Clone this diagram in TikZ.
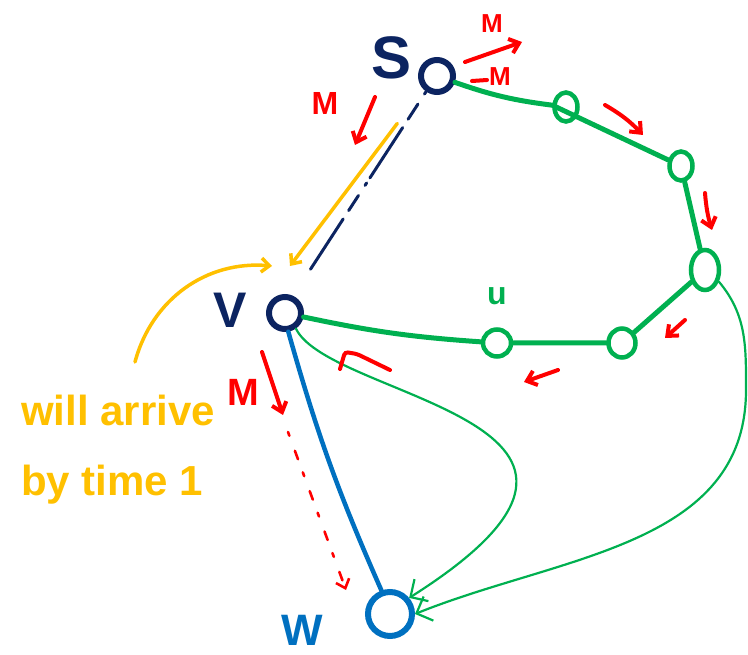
\documentclass[tikz,border=0pt]{standalone}
\usepackage{fontspec}
\setmainfont{Liberation Sans}
\usetikzlibrary{arrows.meta,calc,shapes.geometric}

\definecolor{navy}{RGB}{12,36,97}
\definecolor{pgreen}{RGB}{0,176,80}
\definecolor{pblue}{RGB}{0,112,192}
\definecolor{pred}{RGB}{255,0,0}
\definecolor{pyellow}{RGB}{255,192,0}

\begin{document}
\begin{tikzpicture}[
  x=1pt,y=-1pt,
  line cap=round,
  vtx/.style={circle,draw=navy,line width=6pt,minimum size=32pt,inner sep=0pt},
  gvtx/.style={ellipse,draw=pgreen,line width=4.5pt,minimum width=23pt,minimum height=29pt,inner sep=0pt},
  tag/.style={font=\fontsize{#1}{#1}\selectfont\bfseries,inner sep=0pt},
  gline/.style={pgreen,line width=5pt},
  gthin/.style={pgreen,line width=2.2pt,-{Straight Barb[length=13pt,width=26pt]}},
  redarr/.style={pred,line width=4pt,-{Straight Barb[length=9pt,width=15pt]}},
  yarr/.style={pyellow,line width=3.5pt,-{Straight Barb[length=8pt,width=14pt]}}
]
  \useasboundingbox (0,0) rectangle (748,655);

  % vertices
  \node[vtx] (s) at (437,76) {};
  \node[tag=60,text=navy] (slbl) at (392,58) {S};
  \node[vtx] (v) at (285,313) {};
  \node[tag=50,text=navy] (vlbl) at (230,310) {V};
  \node[circle,draw=pblue,line width=6pt,minimum size=44pt,inner sep=0pt] (w) at (390,614) {};
  \node[tag=44,text=pblue] (wlbl) at (302,630) {W};

  % green cycle
  \node[gvtx] (g1) at (566,107) {};
  \node[gvtx] (g2) at (681,166) {};
  \node[gvtx,minimum width=28pt,minimum height=40pt] (g3) at (705,270) {};
  \node[gvtx,minimum width=27pt] (g4) at (622,343) {};
  \node[gvtx,minimum width=28pt,minimum height=27pt] (u) at (497,343) {};
  \node[tag=32,text=pgreen] (ulbl) at (497,296) {u};
  \draw[gline] (s) to[bend right=6] (g1) -- (g2) -- (g3) -- (g4) -- (u) to[bend left=4] (v);
  \draw[gthin] (v.-55) .. controls (330,400) and (690,420) .. (w.40);
  \draw[gthin] (g3.-40) to[out=-50,in=90] (746,390) to[out=-90,in=22] (w.east);

  % S to V
  \coordinate (vtop) at (290,266);
  \draw[navy,line width=3pt,dash pattern=on 3pt off 12pt on 18pt off 10pt on 60pt off 6pt]
    (s.-125) -- ($(vtop)+(20,4)$);
  \draw[yarr] ($(s)!0.25!(vtop)+(-3,0)$) -- (vtop);
  \draw[pblue,line width=4.5pt] (v.-80) to[bend right=4] (w.110);

  % note
  \node[text=pyellow,align=left,inner sep=0pt,font=\fontsize{42}{70}\selectfont\bfseries] (note) at (118,450) {will arrive\\by time 1};
  \draw[yarr] (135,362) to[out=75,in=175] ($(vtop)+(-18,0)$);

  % red marks
  \node[tag=26,text=pred] (m1) at (492,24) {M};
  \draw[redarr] (465,62) -- (522,42);
  \node[tag=26,text=pred] (m2) at (500,77) {M};
  \draw[pred,line width=4pt] (472,81) -- (487,80);
  \node[tag=32,text=pred] (m3) at (325,103) {M};
  \draw[redarr] (375,97) -- (355,145);
  \draw[redarr] (605,105) to[bend left=8] (643,135);
  \draw[redarr] (705,193) to[bend right=6] (712,230);
  \draw[redarr] (685,320) -- (665,338);
  \draw[redarr] (558,370) -- (524,382);
  \draw[pred,line width=4pt,rounded corners=3pt] (340,369) -- (345,352) -- (357,354) -- (390,370);
  \node[tag=38,text=pred] (m4) at (243,392) {M};
  \draw[redarr] (262,352) -- (283,415);
  \draw[pred,line width=2.6pt,dash pattern=on 4pt off 16pt on 9pt off 14pt,-{Straight Barb[length=8pt,width=14pt]}]
    (288,432) -- (346,590);
\end{tikzpicture}
\end{document}
